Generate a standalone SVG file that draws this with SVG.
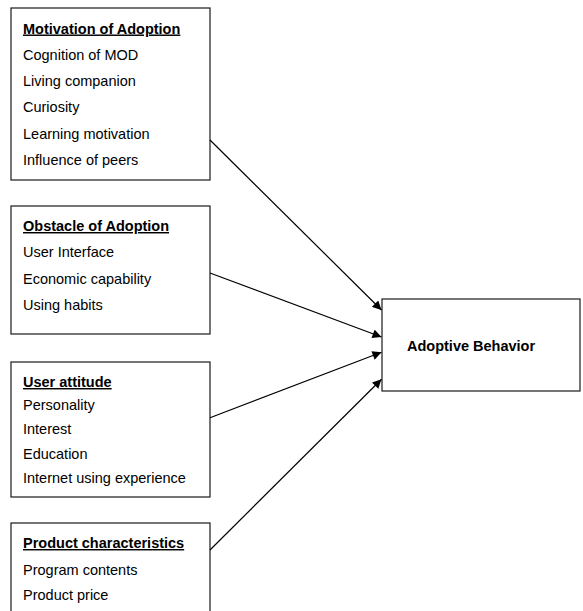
<svg xmlns="http://www.w3.org/2000/svg" width="583" height="611" viewBox="0 0 583 611">
<style>
.box{fill:#fff;stroke:#1a1a1a;stroke-width:1.2}
text{font-family:"Liberation Sans",Arial,sans-serif;font-size:14.5px;fill:#000}
.t{font-weight:bold;text-decoration:underline}
.b{font-weight:bold}
.c{stroke:#000;stroke-width:1.2;fill:none;marker-end:url(#ah)}
</style>
<defs>
<marker id="ah" viewBox="0 0 10 10" refX="10" refY="5" markerWidth="11" markerHeight="9" markerUnits="userSpaceOnUse" orient="auto">
<path d="M0,0 L10,5 L0,10 z" fill="#000"/>
</marker>
</defs>
<rect width="583" height="611" fill="#fff"/>
<g id="motivation">
<rect class="box" x="11" y="8" width="199" height="172"/>
<text class="t" x="23" y="33.5">Motivation of Adoption</text>
<text x="23" y="59.8">Cognition of MOD</text>
<text x="23" y="86.1">Living companion</text>
<text x="23" y="112.4">Curiosity</text>
<text x="23" y="138.7">Learning motivation</text>
<text x="23" y="165">Influence of peers</text>
</g>
<g id="obstacle">
<rect class="box" x="11" y="206" width="199" height="128"/>
<text class="t" x="23" y="231">Obstacle of Adoption</text>
<text x="23" y="257">User Interface</text>
<text x="23" y="284">Economic capability</text>
<text x="23" y="310">Using habits</text>
</g>
<g id="attitude">
<rect class="box" x="11" y="362" width="199" height="135"/>
<text class="t" x="23" y="387">User attitude</text>
<text x="23" y="410">Personality</text>
<text x="23" y="434">Interest</text>
<text x="23" y="459">Education</text>
<text x="23" y="483">Internet using experience</text>
</g>
<g id="product">
<rect class="box" x="11" y="523" width="199" height="110"/>
<text class="t" x="23" y="548">Product characteristics</text>
<text x="23" y="575">Program contents</text>
<text x="23" y="600">Product price</text>
</g>
<g id="adoptive">
<rect class="box" x="382" y="299" width="198" height="92"/>
<text class="b" x="407" y="351">Adoptive Behavior</text>
</g>
<g id="connectors">
<line class="c" x1="210" y1="140" x2="381.5" y2="310"/>
<line class="c" x1="210" y1="273" x2="381.5" y2="337"/>
<line class="c" x1="210" y1="417.7" x2="381.5" y2="352.3"/>
<line class="c" x1="210" y1="550" x2="381.5" y2="379.3"/>
</g>
</svg>
